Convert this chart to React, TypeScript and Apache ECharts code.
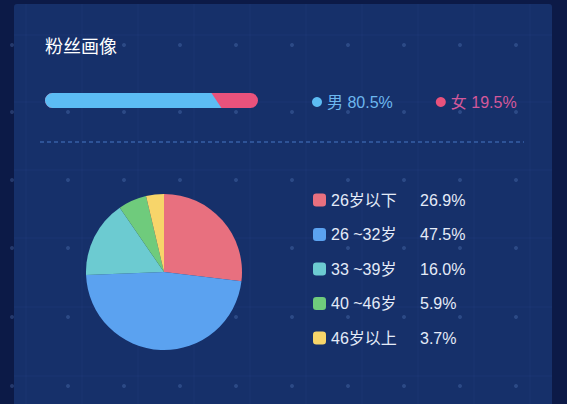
import React, { useEffect, useRef } from "react";
import * as echarts from "echarts";

const titleText = "粉丝画像";
const genderNames = ["男", "女"];
const genderValues = [80.5, 19.5];
const genderColors = ["#5cbcf4", "#e9527c"];
const genderTextColors = ["#6db7ee", "#d4589a"];

const ageNames = ["26岁以下", "26 ~32岁", "33 ~39岁", "40 ~46岁", "46岁以上"];
const ageValues = [26.9, 47.5, 16.0, 5.9, 3.7];
const ageColors = ["#e8707f", "#5ba2f0", "#6ccbd1", "#6fcb7c", "#f7d56a"];

const FONT = "'Liberation Sans', 'Noto Sans CJK SC', sans-serif";
const CJK = "'Noto Sans CJK SC', 'Noto Sans', sans-serif";

export default function App() {
  const ref = useRef<HTMLDivElement>(null);
  useEffect(() => {
    if (!ref.current) return;
    const chart = echarts.init(ref.current, undefined, { renderer: "svg" });

    const deco: any[] = [];
    deco.push({
      type: "rect",
      z: 0,
      silent: true,
      shape: { x: 14, y: 4, width: 538, height: 420, r: 3 },
      style: { fill: "#16306a" },
    });
    const cols = [12, 68, 124, 180, 236, 292, 348, 404, 460, 516];
    const rows = [45, 112, 180, 248, 317, 386];
    rows.forEach((y) =>
      deco.push({
        type: "line",
        z: 0,
        silent: true,
        shape: { x1: 14, y1: y - 10, x2: 552, y2: y - 10 },
        style: { stroke: "rgba(120,160,230,0.06)", lineWidth: 1 },
      })
    );
    cols.forEach((x) =>
      deco.push({
        type: "line",
        z: 0,
        silent: true,
        shape: { x1: x + 14, y1: 4, x2: x + 14, y2: 404 },
        style: { stroke: "rgba(120,160,230,0.05)", lineWidth: 1 },
      })
    );
    rows.forEach((y) =>
      cols.forEach((x) =>
        deco.push({
          type: "circle",
          z: 0,
          silent: true,
          shape: { cx: x, cy: y, r: 2 },
          style: { fill: "rgba(110,150,220,0.25)" },
        })
      )
    );
    deco.push({
      type: "line",
      z: 1,
      silent: true,
      shape: { x1: 40, y1: 142, x2: 524, y2: 142 },
      style: { stroke: "#4677c4", lineWidth: 1, lineDash: [4, 3] },
    });
    deco.push({
      type: "text",
      z: 3,
      left: 45,
      top: 36,
      style: {
        text: titleText,
        fill: "#ffffff",
        font: `18px ${CJK}`,
      },
    });

    const option: any = {
      animation: false,
      backgroundColor: "#0c1a47",
      textStyle: { fontFamily: FONT },
      graphic: { elements: deco },
      grid: { left: 45, top: 93, width: 213, height: 15 },
      xAxis: { type: "value", min: 0, max: 100, show: false },
      yAxis: { type: "category", data: ["gender"], show: false },
      legend: [
        {
          orient: "horizontal",
          left: 312,
          top: 94,
          padding: 0,
          icon: "circle",
          itemWidth: 10,
          itemHeight: 10,
          itemGap: 43,
          selectedMode: false,
          data: genderNames.map((n, i) => ({
            name: n,
            textStyle: { color: genderTextColors[i] },
          })),
          formatter: (name: string) =>
            `${name} ${genderValues[genderNames.indexOf(name)].toFixed(1)}%`,
          textStyle: { fontSize: 16, fontFamily: FONT },
        },
        {
          orient: "vertical",
          left: 313,
          top: 191,
          padding: 0,
          icon: "roundRect",
          itemWidth: 13,
          itemHeight: 13,
          itemGap: 16.5,
          selectedMode: false,
          data: ageNames,
          formatter: (name: string) =>
            `{n|${name}}{v|${ageValues[ageNames.indexOf(name)].toFixed(1)}%}`,
          textStyle: {
            color: "#e4ebf8",
            fontSize: 16,
            lineHeight: 18,
            fontFamily: FONT,
            rich: {
              n: { width: 89, fontSize: 16, lineHeight: 18, color: "#e4ebf8", fontFamily: FONT },
              v: { fontSize: 16, lineHeight: 18, color: "#e4ebf8", fontFamily: FONT },
            },
          },
        },
      ],
      series: [
        {
          name: genderNames[1],
          type: "bar",
          data: [genderValues[0] + genderValues[1]],
          barWidth: 15,
          itemStyle: { color: genderColors[1], borderRadius: 7.5 },
          silent: true,
          z: 2,
        },
        {
          name: genderNames[0],
          type: "custom",
          data: [[genderValues[0], 0]],
          encode: { x: 0, y: 1 },
          itemStyle: { color: genderColors[0] },
          z: 3,
          silent: true,
          renderItem: (params: any, api: any) => {
            const start = api.coord([0, api.value(1)]);
            const end = api.coord([api.value(0), api.value(1)]);
            const h = 15;
            const top = start[1] - h / 2;
            const bottom = top + h;
            const x0 = start[0];
            const xm = end[0];
            return {
              type: "group",
              children: [
                {
                  type: "rect",
                  shape: { x: x0, y: top, width: xm - 6 - x0, height: h, r: [7.5, 0, 0, 7.5] },
                  style: { fill: genderColors[0] },
                },
                {
                  type: "polygon",
                  shape: {
                    points: [
                      [xm - 7, top],
                      [xm - 5, top],
                      [xm + 5, bottom],
                      [xm - 7, bottom],
                    ],
                  },
                  style: { fill: genderColors[0] },
                },
              ],
            };
          },
        },
        {
          name: "age",
          type: "pie",
          center: [164, 272],
          radius: 78,
          startAngle: 90,
          clockwise: true,
          label: { show: false },
          labelLine: { show: false },
          silent: true,
          data: ageNames.map((n, i) => ({
            name: n,
            value: ageValues[i],
            itemStyle: { color: ageColors[i] },
          })),
        },
      ],
    };
    chart.setOption(option);
    return () => chart.dispose();
  }, []);
  return (
    <div
      ref={ref}
      style={{ position: "fixed", left: 0, top: 0, width: 567, height: 404 }}
    />
  );
}
